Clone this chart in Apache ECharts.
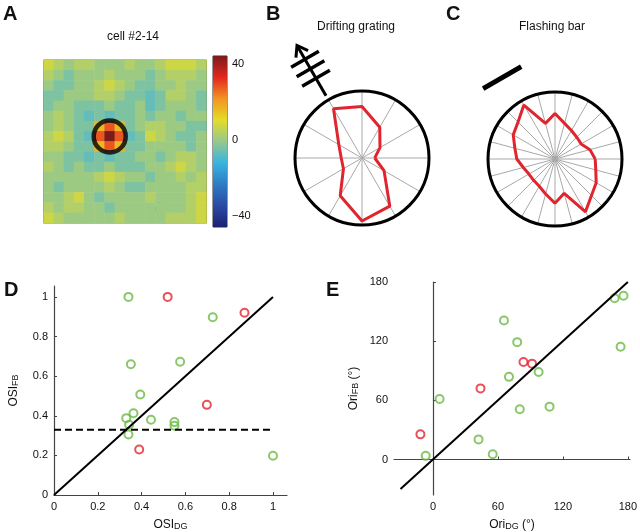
<!DOCTYPE html>
<html>
<head>
<meta charset="utf-8">
<script src="https://cdn.jsdelivr.net/npm/echarts@6/dist/echarts.min.js"></script>
<style>
  html, body { margin: 0; padding: 0; background: #fff; }
  #main { width: 640px; height: 532px; }
</style>
</head>
<body>
<div id="main"></div>
<script>
// ---- panel A: receptive field map (16 x 16, rows top to bottom) ----
var rfRows = [
  [7, 3, 0, 3, 3, 0, 0, 0, 3, 0, 0, 3, 7, 7, 7, 3],
  [3, 0, -4, 0, 0, 0, 3, 0, 0, 0, -4, 0, 3, 3, 3, 0],
  [0, -4, -4, 0, 0, 3, 7, 3, 0, -4, -4, 0, 0, 3, 0, 0],
  [-4, -4, 0, 0, 0, 3, 3, 0, -4, -4, -7, -4, 3, 3, 0, -4],
  [-4, 0, 0, -4, -4, -4, 0, -4, -4, 0, -7, -4, 0, 0, 0, -4],
  [0, 3, 0, -4, -7, -4, -7, -4, -4, 0, -4, 0, 0, -4, 0, 0],
  [0, 3, 0, -4, -4, 16, 28, 16, -4, 0, 3, 3, 0, 0, -4, -4],
  [3, 7, 3, -4, -7, 28, 44, 28, -7, -4, 7, 3, 0, -4, -4, 0],
  [3, 3, 0, -4, -4, 16, 28, 16, -4, -4, 0, 0, 0, 0, -4, 0],
  [0, 0, -4, -4, -7, -4, -7, -4, -4, 0, 0, -4, 0, 3, 3, 0],
  [3, 0, -4, 0, -4, -4, 0, -4, -4, -4, 0, 0, 3, 7, 3, 0],
  [0, 0, 0, 0, 0, 3, 7, 3, 0, 0, -4, 0, 0, 3, 0, 3],
  [0, -4, 0, 0, 0, 0, 3, 0, -4, -4, 0, 0, 0, 0, 3, 3],
  [0, 0, 3, 7, 0, -4, 0, 0, 0, 0, 3, 0, 0, 0, 3, 7],
  [3, 0, 3, 3, 0, 0, -4, 0, 0, 0, 0, 0, 0, 0, 3, 7],
  [7, 3, 0, 0, 0, 0, 0, 3, 0, 0, 0, 0, 3, 3, 3, 7]
];
var rfCenter = [6, 7];            // cell of the RF centre (ring)
var cbRange = [-46, 44];
var cbTicks = [-40, 0, 40];
var cbMinorTicks = [-40, -30, -20, -10, 0, 10, 20, 30, 40];
var jetColors = ['#1a2272', '#2a4aa6', '#2e7cc4', '#38b4e0', '#96c88c',
                 '#e4dc28', '#f39422', '#e3271f', '#7a1c1c'];

// ---- panel B: drifting grating tuning (direction, normalised response) ----
var dgDirections = [0, 30, 60, 90, 120, 150, 180, 210, 240, 270, 300, 330];
var dgResponse = [0.19, 0.31, 0.53, 0.77, 0.85, 0.40, 0.31, 0.32, 0.65, 0.94, 0.83, 0.38];

// ---- panel C: flashing bar tuning ----
var fbAngles = [0, 15, 30, 45, 60, 75, 90, 105, 120, 135, 150, 165,
                180, 195, 210, 225, 240, 255, 270, 285, 300, 315, 330, 345];
var fbResponse = [0.60, 0.54, 0.45, 0.46, 0.49, 0.55, 0.68, 0.55, 0.93, 0.78, 0.72, 0.62,
                  0.57, 0.49, 0.45, 0.45, 0.47, 0.54, 0.66, 0.53, 0.91, 0.77, 0.71, 0.63];

// ---- panel D: OSI ----
var osiGreen = [
  [0.34, 1.0], [0.725, 0.897], [0.351, 0.66], [0.576, 0.673], [0.394, 0.507],
  [0.363, 0.413], [0.33, 0.388], [0.443, 0.38], [0.55, 0.368], [0.55, 0.35],
  [0.343, 0.355], [0.34, 0.305], [1.0, 0.198]
];
var osiRed = [[0.519, 1.0], [0.87, 0.92], [0.698, 0.455], [0.389, 0.23]];
var osiThreshold = 0.33;
var osiTicks = [0, 0.2, 0.4, 0.6, 0.8, 1];

// ---- panel E: preferred orientation ----
var oriGreen = [
  [65.6, 141], [77.8, 119], [70.2, 83.8], [97.6, 88.8], [80.2, 51], [107.7, 53.6],
  [6.1, 61.3], [42.1, 20.4], [55.2, 5.4], [-6.7, 3.7], [167.8, 163.6], [176, 166],
  [173.3, 114.3]
];
var oriRed = [[43.9, 72.1], [83.6, 98.9], [91.5, 97.2], [-11.6, 25.5]];
var oriTicks = [0, 60, 120, 180];

var green = '#6cba45';
var red = '#e1252e';
var font = 'Liberation Sans, Arial, sans-serif';

var myChart = echarts.init(document.getElementById('main'));

var heatData = [];
rfRows.forEach(function (row, r) {
  row.forEach(function (v, c) { heatData.push([c, r, v]); });
});
var idx16 = rfRows[0].map(function (v, i) { return i; });

function closeLoop(angles, resp) {
  var d = angles.map(function (a, i) { return [resp[i], a]; });
  d.push(d[0]);
  return d;
}

var cbStops = jetColors.map(function (c, i) {
  return { offset: i / (jetColors.length - 1), color: jetColors[jetColors.length - 1 - i] };
});

// icons next to the polar plots
var cB = [362, 158], cC = [555, 159];
function dir(a) { var r = a * Math.PI / 180; return [Math.cos(r), -Math.sin(r)]; }
function pt(c, a, d) { var v = dir(a); return [c[0] + d * v[0], c[1] + d * v[1]]; }
function add(p, a, d) { var v = dir(a); return [p[0] + d * v[0], p[1] + d * v[1]]; }
function seg(p1, p2, w) {
  return { type: 'line', shape: { x1: p1[0], y1: p1[1], x2: p2[0], y2: p2[1] },
           style: { stroke: '#000', lineWidth: w } };
}
var icons = [];
icons.push(seg(pt(cB, 120, 72), pt(cB, 120, 128), 3));
var tip = pt(cB, 120, 130);
icons.push({ type: 'polyline', shape: { points: [add(add(tip, 300, 10), 30, 7), tip, add(add(tip, 300, 10), 210, 7)] },
             style: { stroke: '#000', lineWidth: 3, fill: null } });
[92, 103, 114].forEach(function (d) {
  var m = pt(cB, 120, d);
  icons.push(seg(add(m, 210, 16), add(m, 30, 16), 3.5));
});
var mC = pt(cC, 123, 97);
icons.push(seg(add(mC, 210, 22), add(mC, 30, 22), 5));

function txt(x, y, s, size, weight, align) {
  return { type: 'text', x: x, y: y,
           style: { text: s, font: (weight || 'normal') + ' ' + size + 'px ' + font,
                    fill: '#111', textAlign: align || 'left', textVerticalAlign: 'middle' } };
}

var axisText = { color: '#111', fontSize: 11, fontFamily: font };
var sub = { rich: { s: { fontSize: 9, fontFamily: font, verticalAlign: 'bottom', padding: [3, 0, 0, 0] } },
            color: '#111', fontSize: 12, fontFamily: font };

function valueAxis(gridIndex, min, max, ticks, name, gap) {
  return {
    type: 'value', gridIndex: gridIndex, min: min, max: max,
    name: name, nameLocation: 'middle', nameGap: gap, nameTextStyle: sub,
    axisLine: { show: true, lineStyle: { color: '#444', width: 1.2 } },
    axisTick: { show: true, inside: true, length: 3, customValues: ticks, lineStyle: { color: '#444' } },
    axisLabel: Object.assign({ customValues: ticks, margin: 6 }, axisText),
    splitLine: { show: false }
  };
}

var option = {
  animation: false,
  textStyle: { fontFamily: font },
  graphic: [
    txt(3, 14, 'A', 20, 'bold'),
    txt(266, 14, 'B', 20, 'bold'),
    txt(446, 14, 'C', 20, 'bold'),
    txt(4, 290, 'D', 20, 'bold'),
    txt(326, 290, 'E', 20, 'bold'),
    txt(133, 37, 'cell #2-14', 12, 'normal', 'center'),
    txt(356, 27, 'Drifting grating', 12, 'normal', 'center'),
    txt(552, 27, 'Flashing bar', 12, 'normal', 'center'),
    txt(164.5, 200, '10°', 11, 'normal', 'center'),
    { type: 'rect', shape: { x: 151, y: 207, width: 27, height: 4 }, style: { fill: '#000' } }
  ].concat(icons),
  visualMap: {
    type: 'continuous', show: false, seriesIndex: 0,
    min: cbRange[0], max: cbRange[1], inRange: { color: jetColors }
  },
  grid: [
    { left: 43.5, top: 60, width: 163, height: 163, show: true, borderColor: '#7a7a48', borderWidth: 1 },
    { left: 213, top: 56, width: 14, height: 171, show: true, borderColor: '#333', borderWidth: 1 },
    { left: 54, top: 286, width: 233, height: 211 },
    { left: 394, top: 282, width: 238, height: 215 }
  ],
  polar: [
    { center: cB, radius: 67 },
    { center: cC, radius: 67 }
  ],
  angleAxis: [
    { polarIndex: 0, type: 'value', min: 0, max: 360, interval: 30, startAngle: 0, clockwise: false,
      axisLine: { lineStyle: { color: '#000', width: 3 } }, axisTick: { show: false }, axisLabel: { show: false },
      splitLine: { show: true, lineStyle: { color: '#a8a8a8', width: 1 } } },
    { polarIndex: 1, type: 'value', min: 0, max: 360, interval: 15, startAngle: 0, clockwise: false,
      axisLine: { lineStyle: { color: '#000', width: 3 } }, axisTick: { show: false }, axisLabel: { show: false },
      splitLine: { show: true, lineStyle: { color: '#a8a8a8', width: 1 } } }
  ],
  radiusAxis: [
    { polarIndex: 0, min: 0, max: 1, show: false },
    { polarIndex: 1, min: 0, max: 1, show: false }
  ],
  xAxis: [
    { type: 'category', gridIndex: 0, data: idx16, show: false },
    { type: 'category', gridIndex: 1, data: ['cb'], show: false },
    valueAxis(2, 0, 1.064, osiTicks, 'OSI{s|DG}', 24),
    valueAxis(3, -36, 182, oriTicks, 'Ori{s|DG} (°)', 24)
  ],
  yAxis: [
    { type: 'category', gridIndex: 0, data: idx16, inverse: true, show: false },
    { type: 'value', gridIndex: 1, position: 'right', min: cbRange[0], max: cbRange[1],
      axisLine: { show: false },
      axisTick: { show: true, inside: true, length: 3, customValues: cbMinorTicks, lineStyle: { color: '#333' } },
      axisLabel: Object.assign({ customValues: cbTicks, margin: 5,
        formatter: function (v) { return String(v).replace('-', '\u2212'); } }, axisText),
      splitLine: { show: false } },
    { type: 'value', gridIndex: 1, position: 'left', min: cbRange[0], max: cbRange[1],
      axisLine: { show: false },
      axisTick: { show: true, inside: true, length: 3, customValues: cbMinorTicks, lineStyle: { color: '#333' } },
      axisLabel: { show: false }, splitLine: { show: false } },
    valueAxis(2, 0, 1.055, osiTicks, 'OSI{s|FB}', 34),
    valueAxis(3, -36, 180, oriTicks, 'Ori{s|FB} (°)', 34)
  ],
  series: [
    { type: 'heatmap', xAxisIndex: 0, yAxisIndex: 0, data: heatData,
      emphasis: { disabled: true }, itemStyle: { borderWidth: 0 } },
    { type: 'scatter', xAxisIndex: 0, yAxisIndex: 0, data: [rfCenter], symbol: 'circle', symbolSize: 32,
      itemStyle: { color: 'rgba(0,0,0,0)', borderColor: '#000', borderWidth: 4.5 }, silent: true },
    { type: 'custom', xAxisIndex: 1, yAxisIndex: 1, data: [[0, cbRange[0], cbRange[1]]],
      encode: { x: 0, y: [1, 2] }, silent: true,
      renderItem: function (params, api) {
        var top = api.coord([0, api.value(2)]);
        var bot = api.coord([0, api.value(1)]);
        var w = api.size([1, 0])[0];
        return { type: 'rect', shape: { x: top[0] - w / 2, y: top[1], width: w, height: bot[1] - top[1] },
                 style: { fill: new echarts.graphic.LinearGradient(0, 0, 0, 1, cbStops) } };
      } },
    { type: 'line', xAxisIndex: 2, yAxisIndex: 3, data: [[0, 0], [1, 1]], symbol: 'none',
      lineStyle: { color: '#000', width: 2 } },
    { type: 'line', xAxisIndex: 2, yAxisIndex: 3, data: [[0, osiThreshold], [1, osiThreshold]], symbol: 'none',
      lineStyle: { color: '#000', width: 2, type: [7, 4] } },
    { type: 'scatter', xAxisIndex: 2, yAxisIndex: 3, data: osiGreen, symbolSize: 8,
      itemStyle: { color: 'rgba(0,0,0,0)', borderColor: green, borderWidth: 2 } },
    { type: 'scatter', xAxisIndex: 2, yAxisIndex: 3, data: osiRed, symbolSize: 8,
      itemStyle: { color: 'rgba(0,0,0,0)', borderColor: red, borderWidth: 2 } },
    { type: 'line', xAxisIndex: 3, yAxisIndex: 4, data: [[-30, -30], [180, 180]], symbol: 'none',
      lineStyle: { color: '#000', width: 2 } },
    { type: 'scatter', xAxisIndex: 3, yAxisIndex: 4, data: oriGreen, symbolSize: 8,
      itemStyle: { color: 'rgba(0,0,0,0)', borderColor: green, borderWidth: 2 } },
    { type: 'scatter', xAxisIndex: 3, yAxisIndex: 4, data: oriRed, symbolSize: 8,
      itemStyle: { color: 'rgba(0,0,0,0)', borderColor: red, borderWidth: 2 } },
    { type: 'line', coordinateSystem: 'polar', polarIndex: 0, data: closeLoop(dgDirections, dgResponse),
      symbol: 'none', lineStyle: { color: red, width: 3 } },
    { type: 'line', coordinateSystem: 'polar', polarIndex: 1, data: closeLoop(fbAngles, fbResponse),
      symbol: 'none', lineStyle: { color: red, width: 3 } }
  ]
};
myChart.setOption(option);
</script>
</body>
</html>
